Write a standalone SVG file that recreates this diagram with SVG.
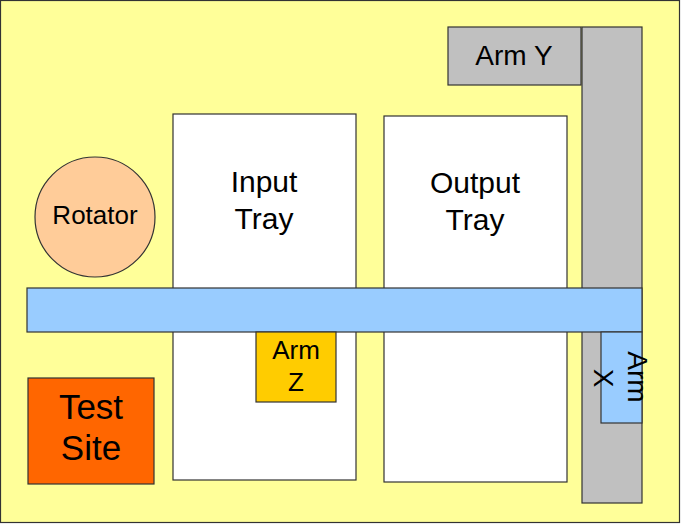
<svg xmlns="http://www.w3.org/2000/svg" width="681" height="524" viewBox="0 0 681 524">
<style>
.b{stroke:#333;stroke-width:1.2}
text{font-family:"Liberation Sans",Arial,sans-serif;fill:#000;text-anchor:middle}
</style>
<rect x="0.5" y="0.5" width="679" height="522" fill="#FFFF99" class="b"/>
<g id="arm-y"><rect x="448" y="27" width="133" height="58" fill="#C0C0C0" class="b"/><text x="514" y="65" font-size="28">Arm Y</text></g>
<g id="rail"><rect x="582" y="27" width="60" height="476" fill="#C0C0C0" class="b"/></g>
<g id="input-tray"><rect x="173" y="114" width="183" height="366" fill="#FFFFFF" class="b"/><text x="264" y="192" font-size="30">Input</text><text x="264" y="229" font-size="30">Tray</text></g>
<g id="output-tray"><rect x="384" y="116" width="183" height="366" fill="#FFFFFF" class="b"/><text x="475" y="193" font-size="30">Output</text><text x="475" y="230" font-size="30">Tray</text></g>
<g id="rotator"><circle cx="95" cy="217" r="60" fill="#FFCC99" class="b"/><text x="95" y="224" font-size="26">Rotator</text></g>
<g id="beam"><rect x="27" y="288" width="615" height="44" fill="#99CCFF" class="b"/></g>
<g id="arm-z"><rect x="256" y="332" width="80" height="70" fill="#FFCC00" class="b"/><text x="296" y="359" font-size="26">Arm</text><text x="296" y="391" font-size="26">Z</text></g>
<g id="arm-x"><rect x="601" y="332" width="41" height="91" fill="#99CCFF" class="b"/><text transform="translate(619,378) rotate(90)" font-size="28"><tspan x="-1" y="-9">Arm</tspan><tspan x="0" y="25">X</tspan></text></g>
<g id="test-site"><rect x="28" y="378" width="126" height="106" fill="#FF6600" class="b"/><text x="91" y="419" font-size="35">Test</text><text x="91" y="460" font-size="35">Site</text></g>
<g id="connectors"/>
</svg>
